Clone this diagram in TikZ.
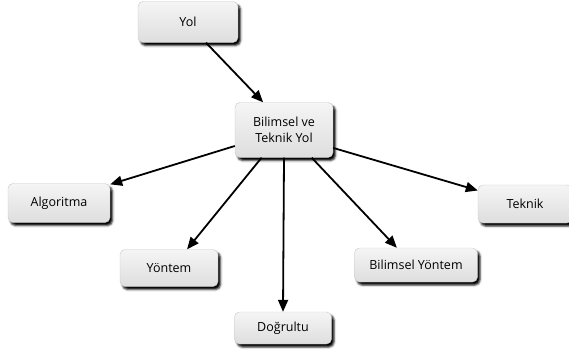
\documentclass[tikz,border=0pt]{standalone}
\usepackage{fontspec}
\setmainfont{Open Sans}
\usepackage{xcolor}
\usetikzlibrary{arrows.meta, shadows.blur}
\tikzset{
  box/.style   = {rectangle, rounded corners=5pt, draw=gray!45,
                  top color=black!4, bottom color=black!13,
                  blur shadow={shadow xshift=2.5pt, shadow yshift=-3pt,
                               shadow blur steps=3, shadow opacity=100,
                               shadow blur radius=2pt},
                  align=center, inner sep=2pt, text=black,
                  font=\fontsize{12.5}{15.5}\selectfont},
  arrow/.style = {-{Triangle[length=12pt,width=10pt]}, line width=1.8pt},
}

\begin{document}
\begin{tikzpicture}[x=1pt, y=-1pt]
  \useasboundingbox (0,0) rectangle (569,360);

  % boxes
  \node[box, minimum width=100pt, minimum height=41pt] (yol) at (188,22) {Yol};
  \node[box, minimum width=98pt, minimum height=55pt] (bty) at (284,130)
    {Bilimsel ve\\Teknik Yol};
  \node[box, minimum width=102pt, minimum height=39pt] (alg) at (59,203) {Algoritma};
  \node[box, minimum width=98pt, minimum height=37pt] (yon) at (169,268) {Yöntem};
  \node[box, minimum width=97pt, minimum height=32pt] (dog) at (283,328) {Doğrultu};
  \node[box, minimum width=123pt, minimum height=34pt] (byo) at (416,265) {Bilimsel Yöntem};
  \node[box, minimum width=94pt, minimum height=38pt] (tek) at (525,204) {Teknik};

  % connectors
  \draw[arrow] (yol.-49) -- (bty.127);
  \draw[arrow] (bty.198) -- (alg.20);
  \draw[arrow] (bty.-129) -- (yon.46);
  \draw[arrow] (bty.south) -- (dog.north);
  \draw[arrow] (bty.-45) -- (byo.138);
  \draw[arrow] (bty.-20) -- (tek.164);
\end{tikzpicture}
\end{document}
